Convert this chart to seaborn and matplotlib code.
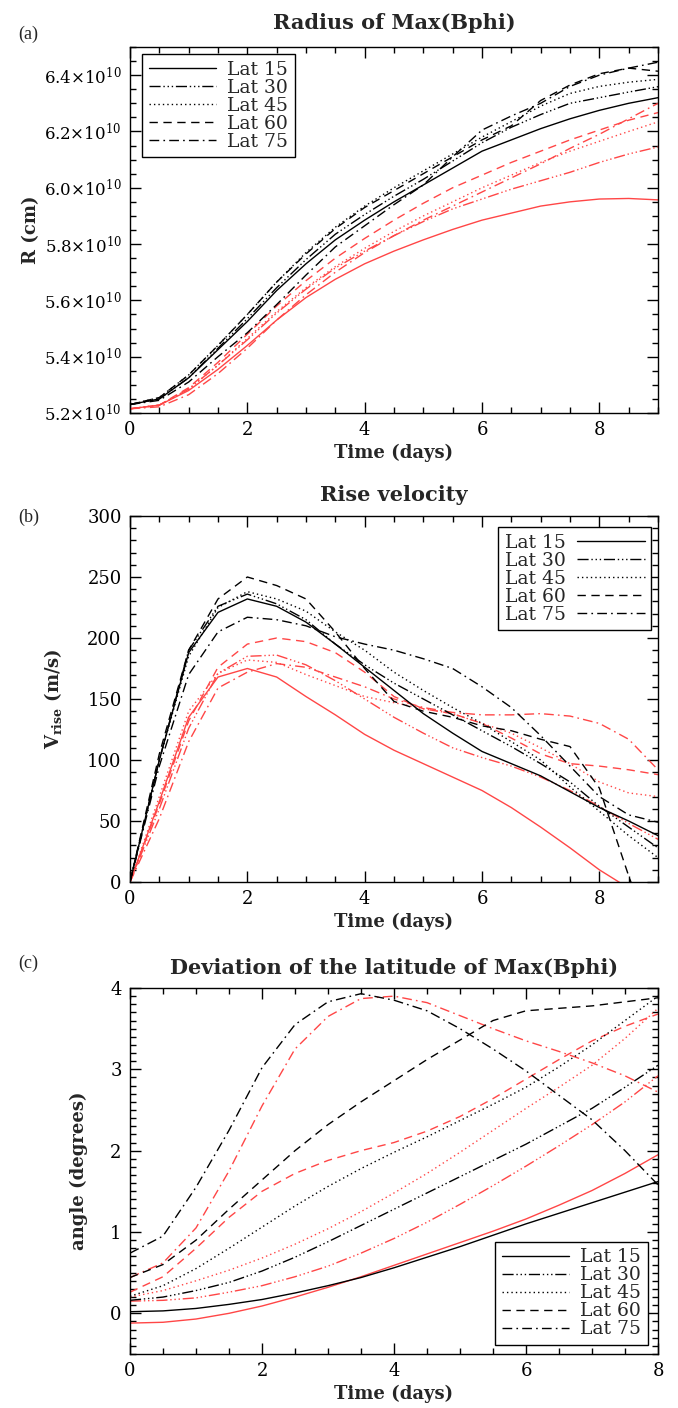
import numpy as np
import pandas as pd
import matplotlib
matplotlib.use("Agg")
import matplotlib.pyplot as plt
import seaborn as sns
from matplotlib.lines import Line2D
from matplotlib.ticker import MultipleLocator, FuncFormatter

# ---------------- data ----------------
lats = ["Lat 15", "Lat 30", "Lat 45", "Lat 60", "Lat 75"]

t_ab = [0, 0.5, 1, 1.5, 2, 2.5, 3, 3.5, 4, 4.5, 5, 5.5, 6, 6.5, 7, 7.5, 8, 8.5, 9]
t_c = [0, 0.5, 1, 1.5, 2, 2.5, 3, 3.5, 4, 4.5, 5, 5.5, 6, 6.5, 7, 7.5, 8]

# (a) radius of Max(Bphi), units of 1e10 cm
rad_black_15 = [5.23, 5.25, 5.325, 5.425, 5.525, 5.635, 5.73, 5.815, 5.885, 5.95, 6.01, 6.07, 6.13, 6.17, 6.21, 6.245, 6.275, 6.30, 6.32]
rad_black_30 = [5.23, 5.25, 5.325, 5.43, 5.535, 5.645, 5.745, 5.835, 5.905, 5.97, 6.03, 6.095, 6.16, 6.215, 6.26, 6.30, 6.32, 6.34, 6.359]
rad_black_45 = [5.23, 5.255, 5.335, 5.44, 5.55, 5.665, 5.77, 5.86, 5.935, 6.0, 6.06, 6.12, 6.18, 6.235, 6.29, 6.335, 6.36, 6.375, 6.385]
rad_black_60 = [5.23, 5.255, 5.335, 5.44, 5.55, 5.665, 5.765, 5.855, 5.93, 5.99, 6.05, 6.11, 6.17, 6.22, 6.31, 6.365, 6.405, 6.425, 6.414]
rad_black_75 = [5.23, 5.245, 5.31, 5.40, 5.485, 5.585, 5.69, 5.79, 5.865, 5.94, 6.01, 6.11, 6.205, 6.255, 6.30, 6.36, 6.40, 6.425, 6.446]

rad_red_15 = [5.215, 5.228, 5.28, 5.355, 5.44, 5.53, 5.61, 5.675, 5.73, 5.775, 5.815, 5.852, 5.885, 5.91, 5.935, 5.95, 5.96, 5.962, 5.957]
rad_red_30 = [5.215, 5.228, 5.285, 5.37, 5.46, 5.555, 5.64, 5.715, 5.775, 5.83, 5.88, 5.925, 5.96, 5.995, 6.025, 6.055, 6.09, 6.12, 6.145]
rad_red_45 = [5.215, 5.228, 5.285, 5.37, 5.465, 5.56, 5.645, 5.72, 5.785, 5.845, 5.90, 5.95, 6.0, 6.045, 6.09, 6.13, 6.165, 6.20, 6.234]
rad_red_60 = [5.215, 5.228, 5.29, 5.38, 5.48, 5.58, 5.67, 5.75, 5.82, 5.885, 5.945, 6.0, 6.045, 6.09, 6.13, 6.17, 6.205, 6.24, 6.267]
rad_red_75 = [5.215, 5.222, 5.265, 5.34, 5.43, 5.53, 5.62, 5.70, 5.77, 5.83, 5.885, 5.935, 5.985, 6.035, 6.085, 6.14, 6.19, 6.245, 6.30]

# (b) rise velocity, m/s
vel_black_15 = [0, 100, 188, 221, 232, 226, 213, 195, 176, 157, 138, 122, 107, 97, 87, 74, 61, 50, 38]
vel_black_30 = [0, 100, 190, 226, 236, 228, 215, 195, 178, 163, 150, 137, 124, 111, 97, 82, 62, 45, 28]
vel_black_45 = [0, 100, 185, 225, 238, 232, 222, 205, 190, 172, 157, 143, 130, 115, 100, 78, 58, 38, 20]
vel_black_60 = [0, 105, 190, 232, 250, 243, 232, 205, 175, 148, 140, 135, 128, 124, 117, 111, 77, 5, -60]
vel_black_75 = [0, 95, 170, 205, 217, 215, 210, 201, 195, 190, 183, 175, 160, 143, 120, 95, 70, 55, 49]

vel_red_15 = [0, 66, 135, 168, 175, 168, 152, 137, 121, 108, 97, 86, 75, 61, 45, 28, 10, -5, -20]
vel_red_30 = [0, 60, 126, 171, 185, 186, 178, 165, 150, 135, 122, 110, 102, 95, 86, 75, 62, 48, 35]
vel_red_45 = [0, 70, 140, 171, 182, 180, 170, 161, 152, 147, 142, 138, 130, 122, 110, 97, 82, 73, 70]
vel_red_60 = [0, 64, 132, 176, 195, 200, 197, 188, 172, 152, 142, 138, 130, 118, 105, 97, 95, 92, 88]
vel_red_75 = [0, 52, 115, 159, 172, 179, 176, 168, 160, 150, 143, 139, 137, 137, 138, 136, 130, 117, 92]

# (c) deviation of the latitude, degrees
ang_black_15 = [0.02, 0.03, 0.06, 0.11, 0.17, 0.25, 0.34, 0.44, 0.56, 0.69, 0.82, 0.96, 1.10, 1.23, 1.36, 1.49, 1.62]
ang_black_30 = [0.16, 0.20, 0.28, 0.38, 0.52, 0.69, 0.88, 1.08, 1.28, 1.48, 1.68, 1.88, 2.08, 2.30, 2.52, 2.78, 3.05]
ang_black_45 = [0.21, 0.34, 0.55, 0.80, 1.06, 1.32, 1.56, 1.78, 1.98, 2.17, 2.37, 2.57, 2.78, 3.03, 3.30, 3.60, 3.90]
ang_black_60 = [0.44, 0.60, 0.90, 1.28, 1.64, 2.00, 2.32, 2.60, 2.86, 3.12, 3.36, 3.60, 3.72, 3.75, 3.78, 3.83, 3.88]
ang_black_75 = [0.74, 0.95, 1.55, 2.25, 3.02, 3.55, 3.83, 3.93, 3.85, 3.72, 3.50, 3.25, 2.98, 2.68, 2.38, 2.00, 1.58]

ang_red_15 = [-0.12, -0.11, -0.07, 0.00, 0.09, 0.20, 0.32, 0.45, 0.59, 0.73, 0.87, 1.01, 1.16, 1.33, 1.51, 1.72, 1.95]
ang_red_30 = [0.15, 0.16, 0.19, 0.26, 0.34, 0.45, 0.58, 0.74, 0.92, 1.12, 1.34, 1.57, 1.81, 2.06, 2.32, 2.60, 2.92]
ang_red_45 = [0.20, 0.28, 0.40, 0.53, 0.68, 0.85, 1.04, 1.25, 1.48, 1.72, 1.98, 2.25, 2.52, 2.78, 3.05, 3.38, 3.75]
ang_red_60 = [0.26, 0.45, 0.80, 1.18, 1.50, 1.72, 1.88, 2.00, 2.10, 2.24, 2.42, 2.64, 2.88, 3.12, 3.35, 3.53, 3.68]
ang_red_75 = [0.44, 0.62, 1.05, 1.75, 2.55, 3.25, 3.65, 3.87, 3.90, 3.82, 3.66, 3.50, 3.35, 3.22, 3.08, 2.92, 2.72]

# ---------------- style ----------------
sns.set_theme(style="ticks")
plt.rcParams["font.family"] = ["DejaVu Serif"]
plt.rcParams["mathtext.fontset"] = "dejavuserif"

RED = "#ff4646"
styles = {
    "Lat 15": "-",
    "Lat 30": (0, (8, 2, 1, 2, 1, 2, 1, 2)),
    "Lat 45": (0, (1, 2.2)),
    "Lat 60": (0, (6, 4)),
    "Lat 75": (0, (7, 3, 1.2, 3)),
}

W, H = 678, 1408
fig = plt.figure(figsize=(W / 100, H / 100), dpi=100)


def add_axes(top, bottom):
    return fig.add_axes([130 / W, 1 - bottom / H, 528 / W, (bottom - top) / H])


def draw(ax, t, black, red):
    for lat, ys in zip(lats, red):
        sns.lineplot(x=t, y=ys, ax=ax, color=RED, linestyle=styles[lat],
                     linewidth=1.0, legend=False, sort=False, estimator=None)
    for lat, ys in zip(lats, black):
        sns.lineplot(x=t, y=ys, ax=ax, color="black", linestyle=styles[lat],
                     linewidth=1.0, legend=False, sort=False, estimator=None)


def style_axes(ax, xmaj, xmin, ymaj, ymin):
    ax.xaxis.set_major_locator(MultipleLocator(xmaj))
    ax.xaxis.set_minor_locator(MultipleLocator(xmin))
    ax.yaxis.set_major_locator(MultipleLocator(ymaj))
    ax.yaxis.set_minor_locator(MultipleLocator(ymin))
    ax.tick_params(which="both", direction="in", top=True, right=True,
                   width=1.0, colors="black", labelsize=13)
    ax.tick_params(which="major", length=8, pad=6)
    ax.tick_params(which="minor", length=4)
    for s in ax.spines.values():
        s.set_linewidth(1.0)
        s.set_color("black")
    ax.set_xlabel("Time (days)", fontsize=13, fontweight="bold")
    ax.xaxis.set_label_coords(0.5, -0.085)


def legend(ax, **kw):
    handles = [Line2D([0], [0], color="black", linestyle=styles[l], linewidth=1.0) for l in lats]
    leg = ax.legend(handles, lats, fontsize=13.5, handlelength=3.6, labelspacing=0.0,
                    borderpad=0.35, handletextpad=0.6, borderaxespad=0.0,
                    fancybox=False, framealpha=1.0, edgecolor="black", **kw)
    leg.get_frame().set_linewidth(1.0)
    return leg


# ---------- panel (a) ----------
ax = add_axes(47, 413)
draw(ax, t_ab,
     [np.array(v) * 1e10 for v in [rad_black_15, rad_black_30, rad_black_45, rad_black_60, rad_black_75]],
     [np.array(v) * 1e10 for v in [rad_red_15, rad_red_30, rad_red_45, rad_red_60, rad_red_75]])
ax.set_xlim(0, 9)
ax.set_ylim(5.2e10, 6.5e10)
style_axes(ax, 2, 0.5, 0.2e10, 0.05e10)
ax.yaxis.set_major_formatter(FuncFormatter(lambda v, p: r"$%.1f{\times}10^{10}$" % (v / 1e10)))
ax.tick_params(axis="y", labelsize=12)
ax.set_ylabel("R (cm)", fontsize=13, fontweight="bold")
ax.yaxis.set_label_coords(-0.17, 0.5)
ax.set_title("Radius of Max(Bphi)", fontsize=15, fontweight="bold", pad=13)
legend(ax, loc="upper left", bbox_to_anchor=(0.023, 0.981))
fig.text(18 / W, 1 - 34 / H, "(a)", fontsize=13, family="Liberation Serif", va="center")

# ---------- panel (b) ----------
ax = add_axes(516, 882)
draw(ax, t_ab,
     [vel_black_15, vel_black_30, vel_black_45, vel_black_60, vel_black_75],
     [vel_red_15, vel_red_30, vel_red_45, vel_red_60, vel_red_75])
ax.set_xlim(0, 9)
ax.set_ylim(0, 300)
style_axes(ax, 2, 0.5, 50, 10)
ax.set_ylabel(r"V$_{\mathbf{rise}}$ (m/s)", fontsize=13, fontweight="bold")
ax.yaxis.set_label_coords(-0.125, 0.5)
ax.set_title("Rise velocity", fontsize=15, fontweight="bold", pad=11)
legend(ax, loc="upper right", bbox_to_anchor=(0.987, 0.97), markerfirst=False)
fig.text(18 / W, 1 - 517 / H, "(b)", fontsize=13, family="Liberation Serif", va="center")

# ---------- panel (c) ----------
ax = add_axes(988, 1354)
draw(ax, t_c,
     [ang_black_15, ang_black_30, ang_black_45, ang_black_60, ang_black_75],
     [ang_red_15, ang_red_30, ang_red_45, ang_red_60, ang_red_75])
ax.set_xlim(0, 8)
ax.set_ylim(-0.5, 4.0)
style_axes(ax, 2, 0.5, 1, 0.1)
ax.set_ylabel("angle (degrees)", fontsize=13, fontweight="bold")
ax.yaxis.set_label_coords(-0.08, 0.5)
ax.set_title("Deviation of the latitude of Max(Bphi)", fontsize=15, fontweight="bold", pad=10)
legend(ax, loc="lower right", bbox_to_anchor=(0.981, 0.025))
fig.text(18 / W, 1 - 963 / H, "(c)", fontsize=13, family="Liberation Serif", va="center")

fig.savefig("out.png", dpi=100)
